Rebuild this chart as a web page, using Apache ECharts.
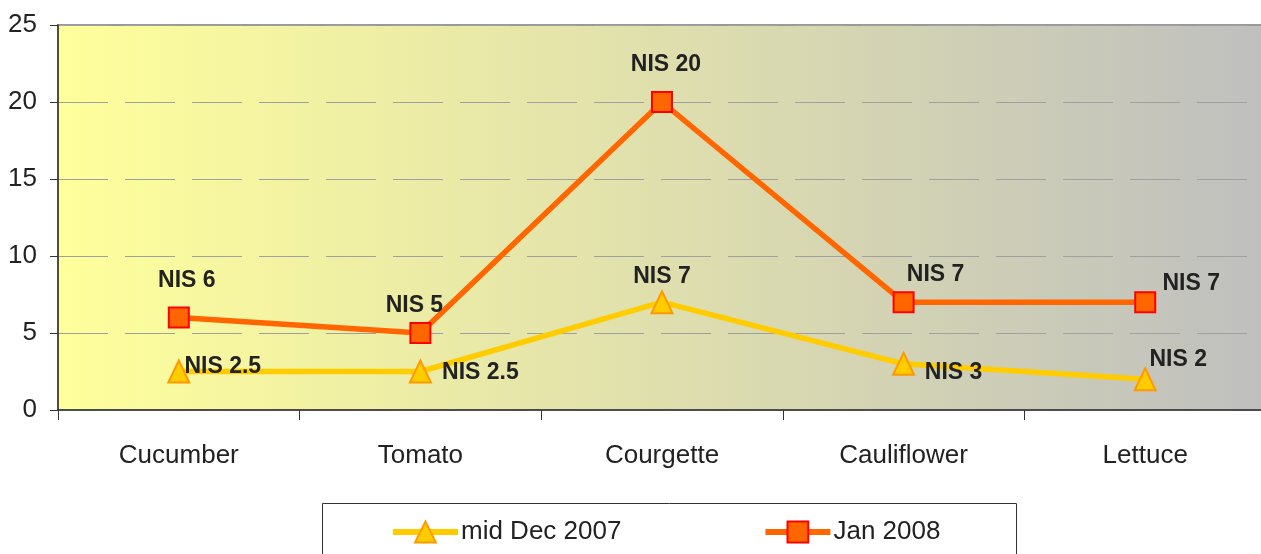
<!DOCTYPE html>
<html>
<head>
<meta charset="utf-8">
<script src="https://cdn.jsdelivr.net/npm/echarts@6/dist/echarts.min.js"></script>
<style>html,body{margin:0;padding:0;background:#fff;}#c{width:1261px;height:554px;}</style>
</head>
<body>
<div id="c"></div>
<script>
const categories = ['Cucumber', 'Tomato', 'Courgette', 'Cauliflower', 'Lettuce'];
const decValues = [2.5, 2.5, 7, 3, 2];
const janValues = [6, 5, 20, 7, 7];
const seriesNames = ['mid Dec 2007', 'Jan 2008'];
const decLabelOffsets = [[44, -5], [60, 1], [0, -26], [50, 9], [33, -20]];
const janLabelOffsets = [[8, -37], [-6, -27], [4, -37], [32, -28], [46, -19]];

const FONT = 'Liberation Sans, Arial, sans-serif';
const chart = echarts.init(document.getElementById('c'), null, {renderer: 'canvas'});

function pts(vals, offs) {
  return vals.map((v, i) => ({
    value: v,
    label: {offset: offs[i]}
  }));
}
const labelBase = {
  show: true, position: 'inside', fontFamily: FONT, fontSize: 23, fontWeight: 'bold',
  color: '#222', formatter: p => 'NIS ' + p.value
};

chart.setOption({
  animation: false,
  textStyle: {fontFamily: FONT},
  graphic: [{
    type: 'rect', left: 322, top: 503, shape: {width: 694, height: 70},
    style: {fill: '#fff', stroke: '#333', lineWidth: 1}, z: -1
  }],
  grid: {
    left: 58, top: 25, width: 1208, height: 385, outerBoundsMode: 'none', containLabel: false,
    show: true, borderWidth: 2, borderColor: '#999',
    backgroundColor: new echarts.graphic.LinearGradient(0, 0, 1, 0, [
      {offset: 0, color: '#ffff9c'}, {offset: 1, color: '#bfbfbf'}
    ])
  },
  legend: {
    left: 390, top: 519, padding: 0, itemWidth: 65, itemHeight: 26, itemGap: 141,
    textStyle: {fontFamily: FONT, fontSize: 26, color: '#222', padding: [0, 0, 0, -2]},
    lineStyle: {width: 6},
    data: seriesNames
  },
  xAxis: {
    type: 'category', data: categories, boundaryGap: true,
    axisLine: {lineStyle: {color: '#333', width: 1.5}},
    axisTick: {show: true, length: 10, lineStyle: {color: '#333'}},
    axisLabel: {fontFamily: FONT, fontSize: 26, color: '#222', margin: 33}
  },
  yAxis: {
    type: 'value', min: 0, max: 25, interval: 5,
    axisLine: {show: true, lineStyle: {color: '#333', width: 1.5}},
    axisTick: {show: true, length: 8, lineStyle: {color: '#333'}},
    axisLabel: {fontFamily: FONT, fontSize: 26, color: '#222', margin: 21},
    splitLine: {lineStyle: {color: '#a0a0a0', width: 1, type: [50, 17]}}
  },
  series: [{
    name: seriesNames[0], type: 'line', data: pts(decValues, decLabelOffsets),
    lineStyle: {color: '#ffcc00', width: 5.5},
    itemStyle: {color: '#ffcc00', borderColor: '#ff9900', borderWidth: 2},
    symbol: 'triangle', symbolSize: [21, 22], showAllSymbol: true,
    label: labelBase, z: 2
  }, {
    name: seriesNames[1], type: 'line', data: pts(janValues, janLabelOffsets),
    lineStyle: {color: '#ff6600', width: 5.5},
    itemStyle: {color: '#ff6600', borderColor: '#ff0000', borderWidth: 2},
    symbol: 'rect', symbolSize: 20, showAllSymbol: true,
    label: labelBase, z: 3
  }]
});
</script>
</body>
</html>
